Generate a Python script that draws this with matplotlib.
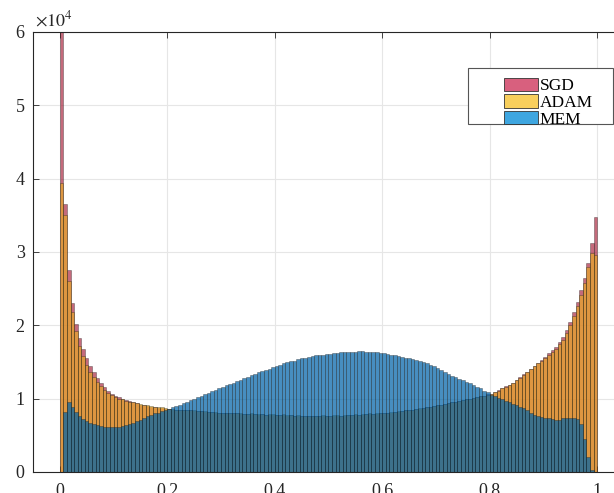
import numpy as np
import matplotlib
matplotlib.use("Agg")
import matplotlib.pyplot as plt
from matplotlib.patches import Patch, Rectangle

plt.rcParams['font.family'] = ['Liberation Serif', 'DejaVu Serif']
plt.rcParams['mathtext.fontset'] = 'stix'

# histogram counts (x10^4), 150 equal bins on [0, 1]
sgd = [6.30, 3.65, 2.75, 2.30, 2.02, 1.83, 1.68, 1.55, 1.45, 1.36,
       1.28, 1.22, 1.16, 1.11, 1.07, 1.04, 1.02, 1.00, 0.98, 0.97,
       0.95, 0.94, 0.92, 0.91, 0.90, 0.89, 0.88, 0.87, 0.87, 0.86,
       0.86, 0.85, 0.85, 0.85, 0.84, 0.84, 0.84, 0.83, 0.83, 0.83,
       0.82, 0.82, 0.82, 0.81, 0.81, 0.81, 0.80, 0.80, 0.80, 0.80,
       0.79, 0.79, 0.79, 0.79, 0.79, 0.78, 0.79, 0.78, 0.78, 0.78,
       0.78, 0.78, 0.78, 0.77, 0.78, 0.77, 0.77, 0.77, 0.77, 0.77,
       0.77, 0.76, 0.77, 0.77, 0.77, 0.77, 0.77, 0.77, 0.77, 0.77,
       0.78, 0.78, 0.78, 0.78, 0.78, 0.79, 0.79, 0.79, 0.79, 0.80,
       0.80, 0.81, 0.81, 0.82, 0.82, 0.83, 0.84, 0.84, 0.85, 0.86,
       0.86, 0.87, 0.88, 0.89, 0.90, 0.91, 0.92, 0.93, 0.94, 0.95,
       0.96, 0.97, 0.98, 0.99, 1.00, 1.01, 1.02, 1.03, 1.04, 1.06,
       1.07, 1.09, 1.12, 1.14, 1.17, 1.19, 1.22, 1.26, 1.29, 1.33,
       1.37, 1.41, 1.45, 1.49, 1.53, 1.57, 1.62, 1.66, 1.70, 1.77,
       1.84, 1.94, 2.05, 2.18, 2.32, 2.48, 2.64, 2.85, 3.12, 3.48]

adam = [3.94, 3.50, 2.60, 2.18, 1.92, 1.72, 1.58, 1.46, 1.37, 1.29,
        1.23, 1.17, 1.12, 1.08, 1.05, 1.02, 1.00, 0.99, 0.97, 0.96,
        0.95, 0.94, 0.93, 0.92, 0.91, 0.90, 0.89, 0.88, 0.88, 0.87,
        0.86, 0.86, 0.85, 0.85, 0.85, 0.84, 0.84, 0.84, 0.83, 0.83,
        0.83, 0.82, 0.82, 0.82, 0.81, 0.81, 0.81, 0.80, 0.80, 0.80,
        0.80, 0.79, 0.79, 0.80, 0.79, 0.79, 0.79, 0.78, 0.79, 0.79,
        0.78, 0.78, 0.79, 0.78, 0.78, 0.77, 0.78, 0.77, 0.77, 0.77,
        0.77, 0.77, 0.77, 0.78, 0.77, 0.77, 0.78, 0.78, 0.77, 0.78,
        0.78, 0.78, 0.79, 0.78, 0.79, 0.79, 0.80, 0.79, 0.80, 0.80,
        0.81, 0.81, 0.82, 0.82, 0.83, 0.83, 0.84, 0.85, 0.85, 0.86,
        0.87, 0.87, 0.88, 0.89, 0.90, 0.91, 0.92, 0.93, 0.94, 0.95,
        0.96, 0.97, 0.98, 0.99, 1.00, 1.01, 1.02, 1.03, 1.04, 1.05,
        1.07, 1.09, 1.11, 1.14, 1.16, 1.19, 1.22, 1.25, 1.28, 1.32,
        1.36, 1.40, 1.44, 1.48, 1.52, 1.56, 1.60, 1.64, 1.68, 1.74,
        1.80, 1.90, 2.00, 2.13, 2.27, 2.42, 2.58, 2.80, 2.99, 2.96]

mem = [0.00, 0.82, 0.95, 0.88, 0.82, 0.77, 0.72, 0.69, 0.67, 0.65,
       0.64, 0.63, 0.62, 0.62, 0.62, 0.62, 0.62, 0.63, 0.64, 0.65,
       0.67, 0.69, 0.71, 0.73, 0.76, 0.78, 0.80, 0.81, 0.83, 0.84,
       0.86, 0.88, 0.90, 0.92, 0.94, 0.96, 0.98, 1.00, 1.02, 1.04,
       1.06, 1.08, 1.10, 1.12, 1.14, 1.16, 1.18, 1.20, 1.22, 1.24,
       1.26, 1.28, 1.30, 1.32, 1.34, 1.36, 1.38, 1.39, 1.41, 1.43,
       1.45, 1.46, 1.48, 1.50, 1.51, 1.52, 1.54, 1.55, 1.56, 1.57,
       1.58, 1.59, 1.60, 1.60, 1.61, 1.61, 1.62, 1.62, 1.63, 1.63,
       1.63, 1.64, 1.64, 1.65, 1.65, 1.64, 1.64, 1.63, 1.63, 1.62,
       1.62, 1.61, 1.60, 1.59, 1.58, 1.57, 1.56, 1.55, 1.54, 1.53,
       1.51, 1.50, 1.48, 1.46, 1.44, 1.42, 1.39, 1.36, 1.33, 1.31,
       1.29, 1.27, 1.25, 1.23, 1.21, 1.19, 1.16, 1.14, 1.11, 1.09,
       1.05, 1.03, 1.01, 0.99, 0.97, 0.95, 0.93, 0.91, 0.89, 0.87,
       0.84, 0.81, 0.78, 0.76, 0.75, 0.74, 0.73, 0.72, 0.71, 0.71,
       0.73, 0.73, 0.74, 0.73, 0.72, 0.66, 0.45, 0.20, 0.03, 0.00]

labels = ["SGD", "ADAM", "MEM"]
xticks = [0, 0.2, 0.4, 0.6, 0.8, 1]
xticklabels = ["0", "0.2", "0.4", "0.6", "0.8", "1"]
yticks = [0, 1, 2, 3, 4, 5, 6]

edges = np.linspace(0, 1, len(mem) + 1)
width = edges[1] - edges[0]

fig = plt.figure(figsize=(6.14, 4.93), dpi=100)
ax = fig.add_axes([0.0537, 0.0426, 0.9625, 0.8925])

# semi transparent bars, drawn in order so later series sit on top
face = [(0.635, 0.078, 0.184, 0.63), (0.929, 0.694, 0.125, 0.63), (0.0, 0.39, 0.66, 0.72)]
edge = (0.08, 0.08, 0.08, 0.55)
for vals, fc in zip([sgd, adam, mem], face):
    ax.bar(edges[:-1], vals, width=width, align='edge', color=fc,
           edgecolor=edge, linewidth=0.4, zorder=2)

ax.set_xlim(-0.05, 1.05)
ax.set_ylim(0, 6)
ax.set_xticks(xticks)
ax.set_xticklabels(xticklabels)
ax.set_yticks(yticks)
ax.grid(True, color='#e6e6e6', linewidth=0.8, zorder=0)
ax.set_axisbelow(True)
ax.tick_params(direction='in', length=4, width=0.6, labelsize=13,
               colors='#262626', top=True, right=True)
ax.tick_params(axis='x', pad=8)
ax.tick_params(axis='y', pad=6)
for s in ax.spines.values():
    s.set_color('#262626')
    s.set_linewidth(0.8)

ax.text(0.003, 1.005, r'$\times10^{4}$', transform=ax.transAxes,
        fontsize=13, color='#262626', ha='left', va='bottom')

# legend box in the upper right
ax.add_patch(Rectangle((0.736, 0.791), 0.245, 0.127, transform=ax.transAxes,
                       facecolor='white', edgecolor='#555555', linewidth=0.8, zorder=4))
leg_colors = ['#d8607e', '#f8cf5c', '#3ea6e0']
handles = [Patch(facecolor=c, edgecolor='#333333', linewidth=0.6) for c in leg_colors]
leg = ax.legend(handles, labels, loc='upper left', bbox_to_anchor=(0.782, 0.916),
                frameon=False, borderpad=0, fontsize=12.5, handlelength=1.95,
                handleheight=0.8, handletextpad=0.1, labelspacing=0.0)
leg.set_zorder(5)

fig.savefig("out.png", dpi=100)
